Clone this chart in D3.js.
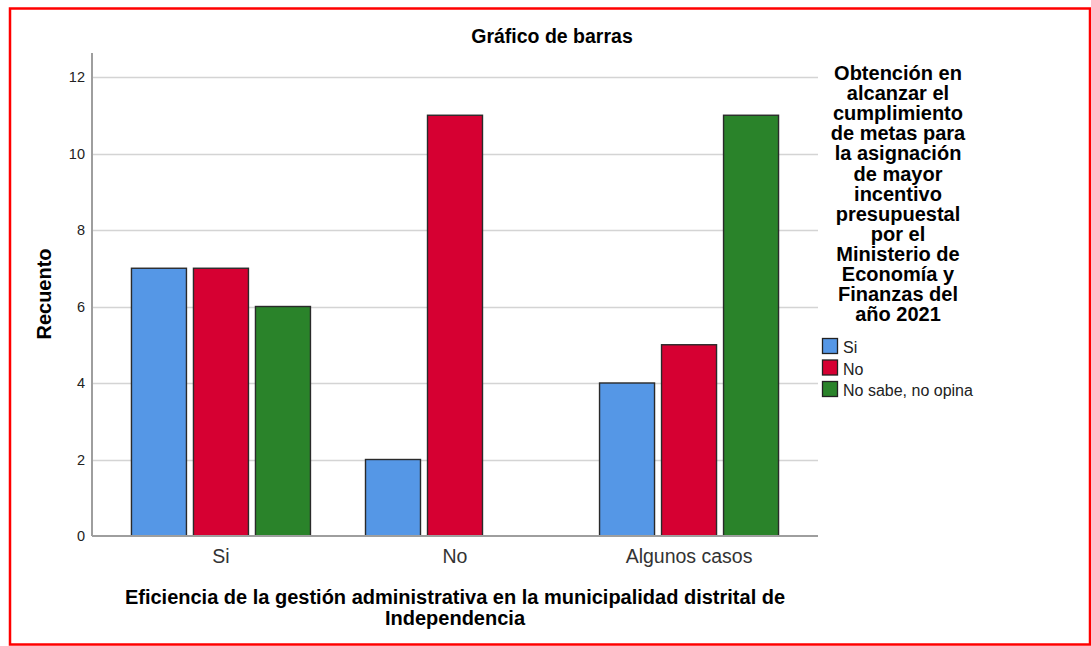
<!DOCTYPE html>
<html>
<head>
<meta charset="utf-8">
<script src="https://cdn.jsdelivr.net/npm/d3@7"></script>
<style>
  body { margin: 0; background: #fff; }
  text { font-family: Arial, "Liberation Sans", sans-serif; }
</style>
</head>
<body>
<svg id="chart" width="1091" height="646"></svg>
<script>
// data
const categories = ["Si", "No", "Algunos casos"];
const seriesNames = ["Si", "No", "No sabe, no opina"];
const seriesSi = [7, 2, 4];
const seriesNo = [7, 11, 5];
const seriesNoSabe = [6, 0, 11];
const yTicks = [0, 2, 4, 6, 8, 10, 12];
const colors = ["#5597e6", "#d60032", "#2a832a"];
const legendTitle = ["Obtención en", "alcanzar el", "cumplimiento", "de metas para",
  "la asignación", "de mayor", "incentivo", "presupuestal", "por el",
  "Ministerio de", "Economía y", "Finanzas del", "año 2021"];

const svg = d3.select("#chart");

// red frame
svg.append("rect")
  .attr("x", 10).attr("y", 8.5)
  .attr("width", 1080).attr("height", 636)
  .attr("fill", "none").attr("stroke", "#ff0000").attr("stroke-width", 2.5);

const plotLeft = 92, plotRight = 818, plotTop = 53, plotBottom = 536;

const y = d3.scaleLinear().domain([0, 12]).range([plotBottom, 77]);
const x0 = d3.scaleBand().domain(categories).range([plotLeft, plotRight]).paddingInner(0).paddingOuter(0.051);
const groupW = 179;
const x1 = d3.scaleBand().domain(seriesNames).range([0, groupW]).paddingInner(0.113).paddingOuter(0);

// grid lines
svg.append("g").selectAll("line")
  .data(yTicks.filter(d => d > 0))
  .join("line")
  .attr("x1", plotLeft).attr("x2", plotRight)
  .attr("y1", d => Math.round(y(d)) + 0.5).attr("y2", d => Math.round(y(d)) + 0.5)
  .attr("stroke", "#d4d4d4").attr("stroke-width", 1.5);

// y axis
const yAxis = svg.append("g")
  .attr("transform", `translate(${plotLeft},0)`)
  .call(d3.axisLeft(y).tickValues(yTicks).tickSize(0).tickPadding(7));
yAxis.select(".domain").remove();
yAxis.selectAll("text").attr("font-size", 14.5).attr("fill", "#222");
svg.append("line")
  .attr("x1", plotLeft).attr("x2", plotLeft).attr("y1", plotTop).attr("y2", plotBottom)
  .attr("stroke", "#9e9e9e").attr("stroke-width", 2);

// bars
const rows = categories.map((c, i) => ({ cat: c, vals: [seriesSi[i], seriesNo[i], seriesNoSabe[i]] }));
const groups = svg.append("g").selectAll("g")
  .data(rows)
  .join("g")
  .attr("transform", d => `translate(${x0(d.cat) + x0.bandwidth() / 2 - groupW / 2},0)`);
groups.selectAll("rect")
  .data(d => d.vals.map((v, j) => ({ name: seriesNames[j], v, j })).filter(e => e.v > 0))
  .join("rect")
  .attr("x", d => x1(d.name))
  .attr("y", d => y(d.v))
  .attr("width", x1.bandwidth())
  .attr("height", d => plotBottom - y(d.v))
  .attr("fill", d => colors[d.j])
  .attr("stroke", "#2a2a2a").attr("stroke-width", 1.4);

// x axis
svg.append("line")
  .attr("x1", plotLeft).attr("x2", plotRight).attr("y1", plotBottom).attr("y2", plotBottom)
  .attr("stroke", "#9e9e9e").attr("stroke-width", 2);
const xAxis = svg.append("g")
  .attr("transform", `translate(0,${plotBottom})`)
  .call(d3.axisBottom(x0).tickSize(0));
xAxis.select(".domain").remove();
xAxis.selectAll("text")
  .attr("y", 27).attr("dy", null)
  .attr("font-size", 19.5).attr("fill", "#333");

// titles
svg.append("text")
  .attr("x", 552).attr("y", 43)
  .attr("text-anchor", "middle").attr("font-size", 19.5).attr("font-weight", "bold")
  .text("Gráfico de barras");

svg.append("text")
  .attr("text-anchor", "middle").attr("font-size", 20).attr("font-weight", "bold")
  .selectAll("tspan")
  .data(["Eficiencia de la gestión administrativa en la municipalidad distrital de", "Independencia"])
  .join("tspan")
  .attr("x", 455).attr("y", (d, i) => 604 + i * 21)
  .text(d => d);

svg.append("text")
  .attr("transform", "translate(51,294) rotate(-90)")
  .attr("text-anchor", "middle").attr("font-size", 20).attr("font-weight", "bold")
  .text("Recuento");

// legend
svg.append("text")
  .attr("text-anchor", "middle").attr("font-size", 20).attr("font-weight", "bold")
  .selectAll("tspan")
  .data(legendTitle)
  .join("tspan")
  .attr("x", 898).attr("y", (d, i) => 80 + i * 20.1)
  .text(d => d);

const leg = svg.append("g").selectAll("g")
  .data(seriesNames)
  .join("g")
  .attr("transform", (d, i) => `translate(822,${338 + i * 21.5})`);
leg.append("rect")
  .attr("x", 0.5).attr("y", 0.5).attr("width", 15).attr("height", 15)
  .attr("fill", (d, i) => colors[i]).attr("stroke", "#222").attr("stroke-width", 1.3);
leg.append("text")
  .attr("x", 21).attr("y", 15)
  .attr("font-size", 16).attr("fill", "#222")
  .text(d => d);
</script>
</body>
</html>
